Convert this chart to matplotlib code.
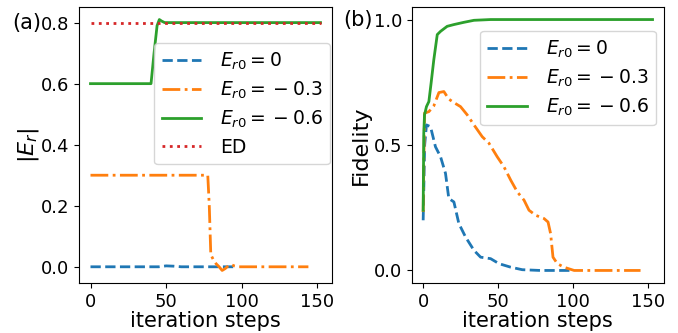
import matplotlib
matplotlib.use("Agg")
import matplotlib.pyplot as plt

# ---- data ----
# panel (a): |E_r| vs iteration steps
a_blue_x = [0, 45, 50, 55, 60, 97]
a_blue_y = [0.0, 0.0, 0.003, 0.002, 0.0, 0.0]
a_orange_x = [0, 77.5, 78.5, 79.5, 81, 83, 85, 87, 89, 91, 93, 95, 98, 144]
a_orange_y = [0.3, 0.3, 0.2, 0.04, 0.025, 0.01, 0.0, -0.012, -0.006, 0.003, 0.007, 0.003, 0.0, 0.0]
a_green_x = [0, 40, 42, 44, 45.5, 47, 49, 152]
a_green_y = [0.6, 0.6, 0.7, 0.79, 0.81, 0.805, 0.8, 0.8]
a_ed_x = [0, 152]
a_ed_y = [0.8, 0.8]

# panel (b): Fidelity vs iteration steps
b_blue_x = [0, 1, 2.2, 4.9, 8.2, 11.6, 14.9, 17.1, 20.5, 23.8, 28.3, 33.9, 38.3, 45, 50.6, 58.4, 66.1, 78, 100]
b_blue_y = [0.2, 0.5, 0.58, 0.573, 0.493, 0.453, 0.387, 0.287, 0.273, 0.187, 0.133, 0.08, 0.053, 0.047,
            0.027, 0.013, 0.003, 0.0, 0.0]
b_orange_x = [0, 0.9, 3.8, 7.1, 10.5, 13.8, 17.1, 20.5, 24.9, 29.4, 33.9, 39.4, 43.9, 49.4, 53.9, 58.4,
              62.8, 67.3, 70.6, 75, 80.6, 83.3, 85, 86.6, 89.5, 93.9, 100.7, 145]
b_orange_y = [0.233, 0.627, 0.633, 0.656, 0.709, 0.713, 0.683, 0.669, 0.653, 0.62, 0.58, 0.533, 0.507,
              0.453, 0.413, 0.36, 0.313, 0.28, 0.24, 0.22, 0.207, 0.193, 0.147, 0.053, 0.027, 0.013, 0.0, 0.0]
b_green_x = [0, 0.4, 0.9, 2.2, 3.8, 5.3, 7.1, 9.4, 11.6, 16, 20.5, 27.2, 33.9, 45, 153]
b_green_y = [0.24, 0.547, 0.62, 0.653, 0.673, 0.747, 0.84, 0.94, 0.953, 0.973, 0.98, 0.989, 0.997, 1.0, 1.0]

labels = [r'$E_{r0}=0$', r'$E_{r0}={}-{}0.3$', r'$E_{r0}={}-{}0.6$', 'ED']
xticks = [0, 50, 100, 150]
a_yticks = [0.0, 0.2, 0.4, 0.6, 0.8]
b_yticks = [0.0, 0.5, 1.0]

plt.rcParams['font.family'] = ['DejaVu Sans']
W, H = 678, 333
fig = plt.figure(figsize=(W / 100, H / 100), dpi=100)

bottom = (H - 283) / H
height = (283 - 7) / H
ax1 = fig.add_axes([79 / W, bottom, (332 - 79) / W, height])
ax2 = fig.add_axes([411.7 / W, bottom, (664 - 411.7) / W, height])

lw = 2.0
ax1.plot(a_blue_x, a_blue_y, color='C0', ls='--', lw=lw, label=labels[0])
ax1.plot(a_orange_x, a_orange_y, color='C1', ls='-.', lw=lw, label=labels[1])
ax1.plot(a_green_x, a_green_y, color='C2', ls='-', lw=lw, label=labels[2])
ax1.plot(a_ed_x, a_ed_y, color='C3', ls=':', lw=lw, label=labels[3])

ax2.plot(b_blue_x, b_blue_y, color='C0', ls='--', lw=lw, label=labels[0])
ax2.plot(b_orange_x, b_orange_y, color='C1', ls='-.', lw=lw, label=labels[1])
ax2.plot(b_green_x, b_green_y, color='C2', ls='-', lw=lw, label=labels[2])

tick_fs = 13
label_fs = 15
ylabel_fs = 16
leg_fs = 13.5
for ax in (ax1, ax2):
    ax.set_xticks(xticks)
    ax.tick_params(labelsize=tick_fs)
    ax.set_xlabel('iteration steps', fontsize=label_fs, labelpad=0)
ax1.set_yticks(a_yticks)
ax2.set_yticks(b_yticks)
ax1.set_ylabel(r'$|E_r|$', fontsize=ylabel_fs, labelpad=0)
ax2.set_ylabel('Fidelity', fontsize=ylabel_fs, labelpad=2)

leg_kw = dict(fontsize=leg_fs, loc='upper right', borderaxespad=0,
              handletextpad=1.0, handlelength=2.1, labelspacing=0.42)
ax1.legend(bbox_to_anchor=(0.992, 0.870), **leg_kw)
ax2.legend(bbox_to_anchor=(0.968, 0.914), **leg_kw)

fig.text(12 / W, 1 - 23 / H, '(a)', fontsize=15, va='center', ha='left')
fig.text(343 / W, 1 - 20 / H, '(b)', fontsize=15, va='center', ha='left')

fig.savefig('out.png', dpi=100)
